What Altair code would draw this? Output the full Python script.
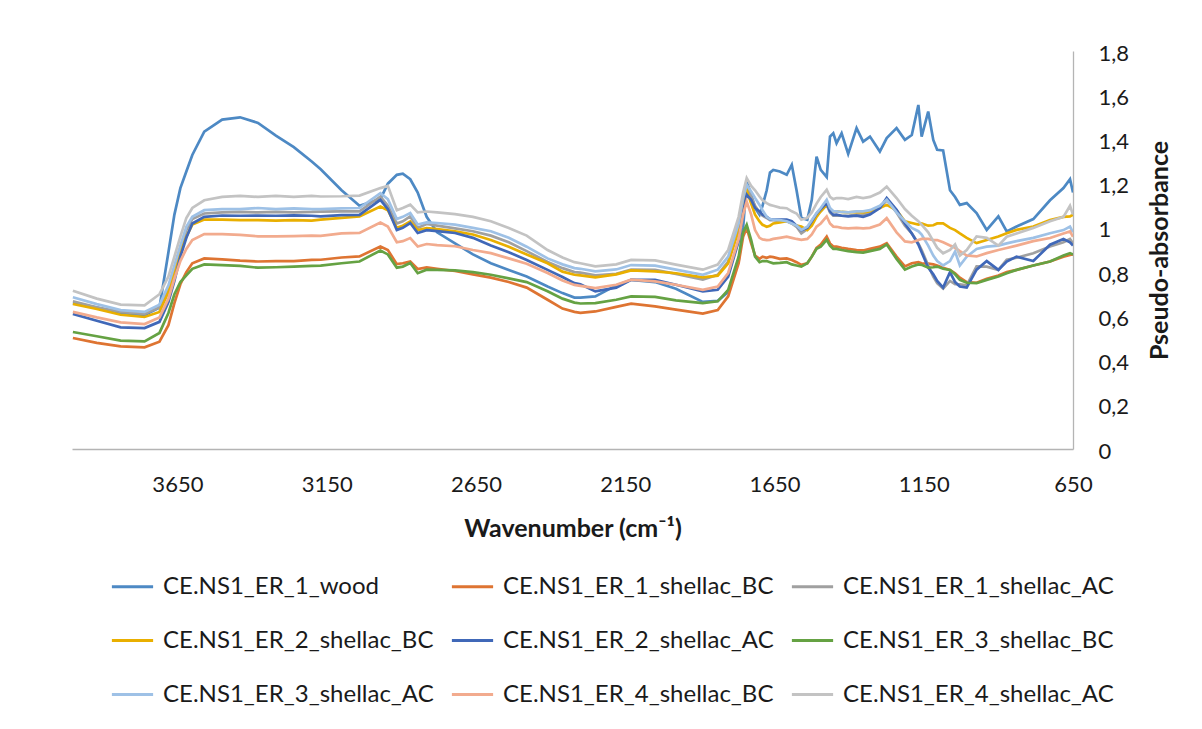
import altair as alt
import pandas as pd

SERIES = [
    "CE.NS1_ER_1_wood", "CE.NS1_ER_1_shellac_BC", "CE.NS1_ER_1_shellac_AC",
    "CE.NS1_ER_2_shellac_BC", "CE.NS1_ER_2_shellac_AC", "CE.NS1_ER_3_shellac_BC",
    "CE.NS1_ER_3_shellac_AC", "CE.NS1_ER_4_shellac_BC", "CE.NS1_ER_4_shellac_AC",
]
COLORS = ["#4D89C4", "#DE7432", "#A0A0A0", "#E9AF00", "#4068B8", "#65A243",
          "#9EC1E6", "#F2AB8E", "#C3C3C3"]

WN = [4000, 3920, 3840, 3760, 3710, 3680, 3660, 3640, 3620, 3600,
      3560, 3500, 3440, 3380, 3320, 3260, 3200, 3170, 3100, 3040,
      2970, 2945, 2915, 2895, 2870, 2845, 2815, 2780, 2720, 2660,
      2600, 2540, 2480, 2410, 2360, 2320, 2300, 2250, 2180, 2130,
      2050, 1980, 1890, 1840, 1805, 1770, 1755, 1743, 1728, 1715,
      1700, 1690, 1676, 1665, 1654, 1632, 1609, 1592, 1576, 1560,
      1540, 1525, 1509, 1495, 1475, 1464, 1453, 1442, 1425, 1403,
      1375, 1353, 1330, 1297, 1274, 1241, 1213, 1190, 1168, 1157,
      1135, 1118, 1105, 1085, 1062, 1045, 1029, 1006, 973, 939,
      900, 872, 839, 783, 727, 682, 660, 650]

WOOD = [0.66, 0.64, 0.615, 0.605, 0.64, 0.89, 1.06, 1.18, 1.255, 1.33,
        1.435, 1.49, 1.50, 1.475, 1.417, 1.365, 1.30, 1.265, 1.17, 1.10,
        1.13, 1.20, 1.24, 1.245, 1.22, 1.16, 1.05, 0.98, 0.93, 0.88,
        0.84, 0.81, 0.78, 0.735, 0.705, 0.685, 0.685, 0.69, 0.74, 0.765,
        0.755, 0.725, 0.665, 0.67, 0.71, 0.85, 1.0, 1.21, 1.15, 1.09,
        1.06, 1.10, 1.17, 1.25, 1.262, 1.255, 1.24, 1.285, 1.17, 1.045,
        1.037, 1.127, 1.322, 1.262, 1.23, 1.413, 1.428, 1.383, 1.428, 1.335,
        1.451, 1.39, 1.413, 1.345, 1.406, 1.451, 1.398, 1.42, 1.556, 1.413,
        1.526, 1.398, 1.353, 1.35, 1.17, 1.14, 1.104, 1.112, 1.067, 0.991,
        1.052, 0.984, 1.006, 1.04, 1.125, 1.18, 1.22, 1.16]

ER1_BC = [0.502, 0.48, 0.464, 0.46, 0.485, 0.56, 0.66, 0.745, 0.80, 0.84,
          0.862, 0.858, 0.852, 0.848, 0.85, 0.85, 0.855, 0.856, 0.866, 0.871,
          0.916, 0.90, 0.836, 0.84, 0.848, 0.814, 0.821, 0.815, 0.805, 0.79,
          0.775, 0.755, 0.73, 0.675, 0.635, 0.62, 0.616, 0.622, 0.643, 0.657,
          0.645, 0.63, 0.612, 0.628, 0.69, 0.84, 0.96, 1.00, 0.93, 0.875,
          0.86, 0.87, 0.865, 0.87, 0.868, 0.86, 0.862, 0.855, 0.845, 0.833,
          0.84, 0.87, 0.91, 0.925, 0.961, 0.93, 0.916, 0.915, 0.91, 0.905,
          0.90, 0.898, 0.905, 0.915, 0.931, 0.87, 0.826, 0.84, 0.845, 0.84,
          0.838, 0.835, 0.83, 0.82, 0.81, 0.795, 0.775, 0.755, 0.752, 0.77,
          0.785, 0.80, 0.81, 0.83, 0.848, 0.87, 0.878, 0.88]

ER1_AC = [0.668, 0.641, 0.620, 0.611, 0.640, 0.72, 0.815, 0.91, 0.99, 1.04,
          1.065, 1.07, 1.072, 1.07, 1.072, 1.07, 1.072, 1.074, 1.075, 1.075,
          1.142, 1.10, 1.02, 1.03, 1.052, 1.00, 1.018, 1.01, 0.998, 0.985,
          0.965, 0.935, 0.895, 0.846, 0.818, 0.80, 0.798, 0.785, 0.792, 0.811,
          0.81, 0.792, 0.766, 0.788, 0.848, 1.00, 1.12, 1.187, 1.142, 1.10,
          1.07, 1.055, 1.045, 1.035, 1.035, 1.03, 1.03, 1.02, 1.005, 0.975,
          0.995, 1.03, 1.06, 1.075, 1.105, 1.07, 1.055, 1.055, 1.055, 1.055,
          1.06, 1.06, 1.07, 1.09, 1.125, 1.07, 1.01, 0.975, 0.93, 0.90,
          0.83, 0.78, 0.75, 0.725, 0.76, 0.745, 0.745, 0.74, 0.826, 0.825,
          0.81, 0.856, 0.865, 0.885, 0.916, 0.935, 0.95, 0.93]

ER2_BC = [0.656, 0.633, 0.607, 0.597, 0.62, 0.71, 0.80, 0.89, 0.96, 1.015,
          1.038, 1.037, 1.035, 1.035, 1.033, 1.035, 1.033, 1.037, 1.045, 1.052,
          1.097, 1.08, 1.00, 1.01, 1.029, 0.99, 0.999, 0.995, 0.984, 0.97,
          0.945, 0.915, 0.88, 0.84, 0.802, 0.788, 0.785, 0.776, 0.79, 0.808,
          0.803, 0.795, 0.776, 0.784, 0.84, 0.99, 1.11, 1.17, 1.11, 1.06,
          1.029, 1.014, 1.005, 1.01, 1.02, 1.025, 1.03, 1.022, 1.01, 1.006,
          0.99, 1.01, 1.05, 1.075, 1.104, 1.085, 1.075, 1.075, 1.072, 1.07,
          1.072, 1.07, 1.075, 1.09, 1.104, 1.08, 1.03, 1.022, 1.015, 1.02,
          1.01, 1.012, 1.02, 1.02, 1.00, 0.99, 0.975, 0.955, 0.931, 0.945,
          0.961, 0.976, 0.991, 1.006, 1.035, 1.05, 1.052, 1.06]

ER2_AC = [0.611, 0.58, 0.55, 0.547, 0.575, 0.665, 0.76, 0.87, 0.955, 1.02,
          1.05, 1.056, 1.055, 1.056, 1.055, 1.057, 1.055, 1.052, 1.058, 1.059,
          1.127, 1.085, 0.99, 1.00, 1.022, 0.977, 0.99, 0.985, 0.977, 0.955,
          0.92, 0.89, 0.855, 0.81, 0.778, 0.75, 0.745, 0.713, 0.73, 0.765,
          0.765, 0.743, 0.713, 0.72, 0.78, 0.94, 1.07, 1.15, 1.127, 1.09,
          1.074, 1.06, 1.05, 1.04, 1.037, 1.037, 1.037, 1.03, 1.01, 0.99,
          1.00, 1.03, 1.065, 1.085, 1.112, 1.075, 1.059, 1.06, 1.055, 1.052,
          1.055, 1.05, 1.06, 1.09, 1.135, 1.082, 1.02, 0.975, 0.925, 0.89,
          0.82, 0.79, 0.76, 0.73, 0.80, 0.755, 0.735, 0.73, 0.811, 0.85,
          0.81, 0.848, 0.87, 0.85, 0.924, 0.95, 0.935, 0.92]

ER3_BC = [0.529, 0.51, 0.49, 0.487, 0.525, 0.615, 0.70, 0.755, 0.785, 0.815,
          0.835, 0.832, 0.828, 0.82, 0.822, 0.825, 0.828, 0.829, 0.84, 0.848,
          0.898, 0.88, 0.82, 0.825, 0.841, 0.795, 0.811, 0.81, 0.808, 0.80,
          0.788, 0.772, 0.755, 0.713, 0.68, 0.662, 0.658, 0.66, 0.675, 0.69,
          0.688, 0.672, 0.66, 0.668, 0.72, 0.87, 0.98, 1.014, 0.945, 0.87,
          0.845, 0.85, 0.85, 0.845, 0.84, 0.842, 0.845, 0.835, 0.83, 0.825,
          0.84, 0.87, 0.905, 0.915, 0.946, 0.92, 0.905, 0.905, 0.90, 0.895,
          0.89, 0.888, 0.895, 0.905, 0.925, 0.86, 0.811, 0.825, 0.835, 0.833,
          0.82, 0.822, 0.825, 0.815, 0.81, 0.79, 0.765, 0.752, 0.75, 0.765,
          0.78, 0.795, 0.81, 0.83, 0.848, 0.875, 0.886, 0.88]

ER3_AC = [0.686, 0.655, 0.628, 0.620, 0.652, 0.74, 0.83, 0.92, 1.005, 1.05,
          1.08, 1.085, 1.085, 1.09, 1.085, 1.088, 1.085, 1.085, 1.088, 1.09,
          1.157, 1.13, 1.04, 1.05, 1.067, 1.015, 1.025, 1.022, 1.015, 1.00,
          0.985, 0.955, 0.915, 0.862, 0.835, 0.818, 0.815, 0.803, 0.812, 0.832,
          0.829, 0.811, 0.788, 0.811, 0.87, 1.02, 1.135, 1.195, 1.165, 1.135,
          1.104, 1.08, 1.05, 1.04, 1.037, 1.035, 1.03, 1.02, 1.01, 0.991,
          1.005, 1.035, 1.067, 1.09, 1.127, 1.09, 1.075, 1.075, 1.072, 1.07,
          1.075, 1.075, 1.08, 1.10, 1.127, 1.07, 1.03, 1.00, 0.985, 0.97,
          0.92, 0.875, 0.85, 0.83, 0.85, 0.893, 0.83, 0.87, 0.905, 0.915,
          0.92, 0.93, 0.94, 0.955, 0.976, 0.99, 1.006, 0.98]

ER4_BC = [0.620, 0.595, 0.573, 0.565, 0.595, 0.68, 0.77, 0.85, 0.905, 0.945,
          0.972, 0.972, 0.968, 0.962, 0.962, 0.963, 0.965, 0.964, 0.975, 0.977,
          1.024, 1.006, 0.935, 0.94, 0.954, 0.916, 0.927, 0.922, 0.917, 0.90,
          0.886, 0.862, 0.838, 0.796, 0.762, 0.742, 0.738, 0.728, 0.743, 0.766,
          0.758, 0.743, 0.72, 0.735, 0.796, 0.95, 1.06, 1.119, 1.06, 0.99,
          0.955, 0.948, 0.945, 0.946, 0.95, 0.955, 0.96, 0.955, 0.95, 0.946,
          0.95, 0.97, 1.006, 1.02, 1.052, 1.02, 1.006, 1.005, 1.00, 0.998,
          1.00, 0.998, 1.00, 1.015, 1.044, 0.98, 0.939, 0.935, 0.945, 0.95,
          0.95, 0.945, 0.945, 0.935, 0.92, 0.91, 0.895, 0.875, 0.871, 0.886,
          0.90, 0.909, 0.92, 0.94, 0.954, 0.975, 0.984, 0.96]

ER4_AC = [0.716, 0.68, 0.653, 0.650, 0.70, 0.78, 0.87, 0.96, 1.045, 1.09,
          1.125, 1.14, 1.145, 1.14, 1.145, 1.14, 1.145, 1.142, 1.143, 1.146,
          1.18, 1.19, 1.08, 1.09, 1.105, 1.07, 1.074, 1.07, 1.062, 1.05,
          1.03, 1.00, 0.965, 0.90, 0.866, 0.845, 0.84, 0.826, 0.835, 0.855,
          0.853, 0.834, 0.811, 0.834, 0.90, 1.05, 1.16, 1.225, 1.19, 1.17,
          1.142, 1.125, 1.112, 1.104, 1.10, 1.092, 1.089, 1.075, 1.065, 1.037,
          1.045, 1.07, 1.11, 1.14, 1.172, 1.14, 1.13, 1.135, 1.135, 1.13,
          1.14, 1.135, 1.14, 1.16, 1.187, 1.135, 1.085, 1.055, 1.03, 1.015,
          0.98, 0.94, 0.91, 0.885, 0.90, 0.925, 0.875, 0.90, 0.961, 0.955,
          0.92, 0.96, 0.975, 1.00, 1.03, 1.05, 1.10, 1.06]

VALUES = [WOOD, ER1_BC, ER1_AC, ER2_BC, ER2_AC, ER3_BC, ER3_AC, ER4_BC, ER4_AC]
X_TICKS = [650, 1150, 1650, 2150, 2650, 3150, 3650]
Y_TICKS = [0, 0.2, 0.4, 0.6, 0.8, 1.0, 1.2, 1.4, 1.6, 1.8]

rows = []
for name, vals in zip(SERIES, VALUES):
    for w, v in zip(WN, vals):
        rows.append({"series": name, "wn": w, "value": v})
df = pd.DataFrame(rows)

FONT = "Lato"
TXT = "#1a1a1a"
AXIS_GREY = "#b4b4b4"

chart = alt.Chart(df).mark_line(strokeWidth=2.7, clip=True).encode(
    x=alt.X("wn:Q",
            scale=alt.Scale(domain=[650, 4003], reverse=True, nice=False, zero=False),
            axis=alt.Axis(values=X_TICKS, format="d", title="Wavenumber (cm⁻¹)",
                          ticks=False, grid=False, domainColor=AXIS_GREY, domainWidth=1.3,
                          labelFont=FONT, labelFontSize=22, labelColor=TXT,
                          labelBaseline="alphabetic", labelPadding=42, labelFlush=False,
                          titleFont=FONT, titleFontSize=25, titleFontWeight="bold",
                          titleColor=TXT, titleY=79, titleBaseline="middle")),
    y=alt.Y("value:Q",
            scale=alt.Scale(domain=[0, 1.8], nice=False),
            axis=alt.Axis(orient="right", values=Y_TICKS,
                          labelExpr="replace(format(datum.value, '.1~f'), '.', ',')",
                          title="Pseudo-absorbance", ticks=False, grid=False,
                          domainColor=AXIS_GREY, domainWidth=1.3,
                          labelFont=FONT, labelFontSize=22, labelColor=TXT,
                          labelAlign="left", labelPadding=25, labelBaseline="middle",
                          labelOffset=2, labelFlush=False,
                          titleFont=FONT, titleFontSize=25, titleFontWeight="bold",
                          titleColor=TXT, titleAngle=270, titleX=86, titleY=199,
                          titleAlign="center", titleBaseline="middle")),
    color=alt.Color("series:N",
                    scale=alt.Scale(domain=SERIES, range=COLORS),
                    legend=alt.Legend(title=None, orient="none", legendX=38, legendY=513,
                                      direction="horizontal", columns=3,
                                      symbolType="stroke", symbolSize=1700,
                                      symbolStrokeWidth=3, labelFont=FONT,
                                      labelFontSize=24, labelColor=TXT, labelLimit=0,
                                      labelOffset=8, rowPadding=19, columnPadding=11)),
).properties(
    width=1001, height=398,
    autosize=alt.AutoSizeParams(type="none"),
    padding={"left": 72, "top": 51, "right": 129, "bottom": 280},
    background="white",
).configure_view(stroke=None)

chart.save("out.html", embed_options={"renderer": "svg", "actions": False})
